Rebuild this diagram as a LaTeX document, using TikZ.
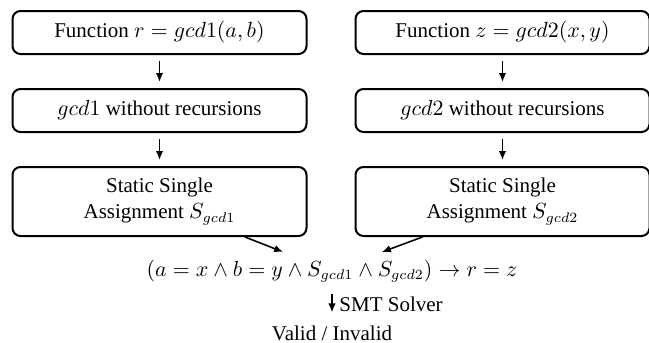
\documentclass[tikz,border=0pt]{standalone}
\usepackage{amsmath,amssymb}
\usepackage[no-math]{fontspec}
\setmainfont{Liberation Serif}
\usepackage{tikz}
\usetikzlibrary{arrows.meta,positioning}
\tikzset{
  mybox/.style = {rectangle, rounded corners=4pt, draw, line width=1pt, minimum height=21.5pt, minimum width=147pt, align=center},
  myarrow/.style = {-{Latex[length=4.5pt,width=3.8pt]}, line width=0.8pt},
  every node/.style = {font=\fontsize{10.5}{13}\selectfont},
}

\begin{document}
\begin{tikzpicture}[node distance=16.5pt]
\useasboundingbox (0,0) rectangle (324.5pt,-171.5pt);
% left column
\node (f1) [mybox] at (79.75pt,-16.25pt) {Function $r = gcd1(a, b)$};
\node (nr1) [mybox, below=of f1] {$gcd1$ without recursions};
\node (ssa1) [mybox, below=of nr1, minimum height=34.5pt] {Static Single\\Assignment $S_{gcd1}$};
% right column
\node (f2) [mybox] at (251.25pt,-16.25pt) {Function $z = gcd2(x, y)$};
\node (nr2) [mybox, below=of f2] {$gcd2$ without recursions};
\node (ssa2) [mybox, below=of nr2, minimum height=34.5pt] {Static Single\\Assignment $S_{gcd2}$};
% verification condition
\node (vc) at (166pt,-135.5pt) {$(a = x \land b = y \land S_{gcd1} \land S_{gcd2}) \rightarrow r = z$};
\node (res) [anchor=base] at (166pt,-170pt) {Valid / Invalid};

\foreach \u/\v in {f1/nr1,nr1/ssa1,f2/nr2,nr2/ssa2}{
  \draw[myarrow, shorten <=3pt, shorten >=3pt] (\u) -- (\v);
}
\draw[myarrow, shorten >=1pt] ([xshift=42.75pt]ssa1.south) -- ([xshift=-23.5pt]vc.north);
\draw[myarrow, shorten >=1pt] ([xshift=-40pt]ssa2.south) -- ([xshift=24pt]vc.north);
\draw[myarrow, shorten <=2.5pt, shorten >=3pt] (vc) -- node[right] {SMT Solver} (res);
\end{tikzpicture}
\end{document}
